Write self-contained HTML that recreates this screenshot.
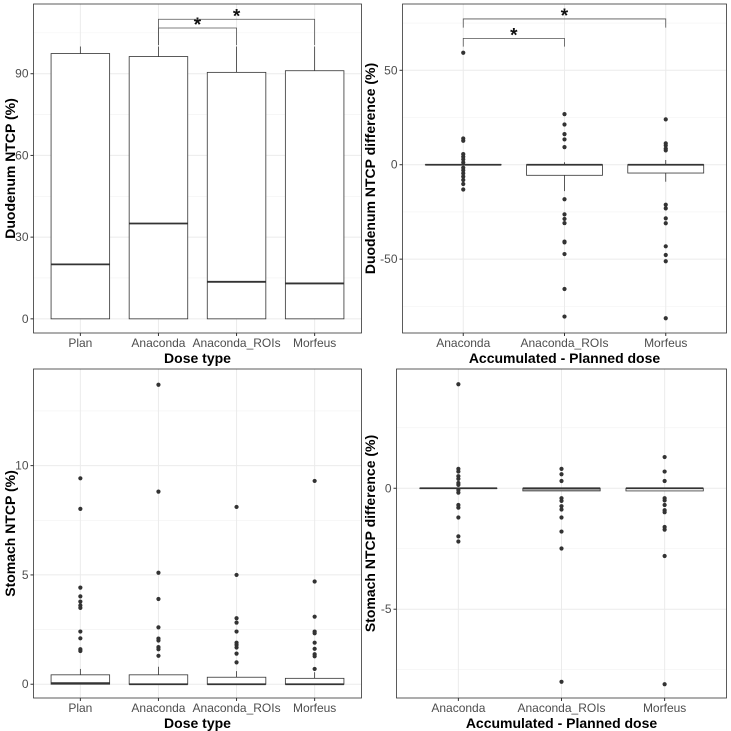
<!DOCTYPE html>
<html><head><meta charset="utf-8"><style>
html,body{margin:0;padding:0;background:#fff;}
svg{display:block;font-family:"Liberation Sans",Arial,sans-serif;}
</style></head><body>
<svg id="fig" width="731" height="731" viewBox="0 0 731 731" xmlns="http://www.w3.org/2000/svg"></svg>
<script>
// Panel A: Duodenum NTCP
const aCats = ["Plan","Anaconda","Anaconda_ROIs","Morfeus"];
const aQ1 = [0,0,0,0];
const aMed = [20,35,13.6,13];
const aQ3 = [97.4,96.3,90.5,91.1];
const aLo = [0,0,0,0];
const aHi = [100,100,100,100];
const aTicks = [0,30,60,90];
const aOut = [[],[],[],[]];
// Panel B: Duodenum NTCP difference
const bCats = ["Anaconda","Anaconda_ROIs","Morfeus"];
const bQ1 = [0,-5.6,-4.4];
const bMed = [0,0,0];
const bQ3 = [0,0,0];
const bLo = [0,-14,-9];
const bHi = [0,1.3,2.5];
const bTicks = [-50,0,50];
const bOut = [
 [59.3,13.9,12.7,5.6,4.2,2.8,1.2,-1.6,-3,-4.6,-6.3,-8.1,-10.2,-13.1],
 [26.8,21.3,16.2,13.4,9.3,-18.3,-26.3,-28.7,-30.9,-40.7,-41.1,-47.3,-65.8,-80.4],
 [24,11.3,10.2,8.5,7.6,-21.2,-23.1,-28.4,-31,-43.2,-47.8,-51.1,-81.3]
];
// Panel C: Stomach NTCP
const cCats = ["Plan","Anaconda","Anaconda_ROIs","Morfeus"];
const cQ1 = [0,0,0,0];
const cMed = [0.05,0,0,0];
const cQ3 = [0.43,0.43,0.32,0.27];
const cLo = [0,0,0,0];
const cHi = [0.7,0.8,0.6,0.55];
const cTicks = [0,5,10];
const cOut = [
 [9.42,8.02,4.42,4.02,3.78,3.6,3.49,2.41,2.1,1.6,1.52],
 [13.7,8.81,5.1,3.9,2.6,2.09,2.0,1.7,1.6,1.3],
 [8.11,5.0,3.02,2.82,2.41,1.9,1.8,1.68,1.4,1.0],
 [9.3,4.7,3.09,2.41,2.33,1.9,1.62,1.37,1.28,0.7]
];
// Panel D: Stomach NTCP difference
const dCats = ["Anaconda","Anaconda_ROIs","Morfeus"];
const dQ1 = [0,-0.11,-0.11];
const dMed = [0,0,0];
const dQ3 = [0,0,0];
const dLo = [0,-0.11,-0.11];
const dHi = [0,0,0];
const dTicks = [-5,0];
const dOut = [
 [4.3,0.8,0.69,0.5,0.39,0.22,0.14,-0.07,-0.18,-0.69,-0.8,-1.21,-1.99,-2.2],
 [0.8,0.58,0.3,-0.41,-0.52,-0.74,-0.88,-1.21,-1.79,-2.49,-8.0],
 [1.29,0.69,0.3,-0.41,-0.5,-0.69,-0.91,-0.99,-1.6,-1.71,-2.8,-8.1]
];
// significance brackets: [fromIdx,toIdx,yValue,tipValue]
const aSig = [[1,2,106.8,100.5],[1,3,110,100.5]];
const bSig = [[0,1,66.9,62.5],[0,2,77.2,72.6]];

const NS="http://www.w3.org/2000/svg";
const svg=document.getElementById('fig');
function el(tag,attrs,parent,text){const e=document.createElementNS(NS,tag);for(const k in attrs)e.setAttribute(k,attrs[k]);if(text!==undefined)e.textContent=text;(parent||svg).appendChild(e);return e;}

function panel(p){
  const g=el('g',{});
  
  
  const L=p.x0,R=p.x1,T=p.y0,B=p.y1;
  const y=v=>T+(p.ymax-v)/(p.ymax-p.ymin)*(B-T);
  const n=p.cats.length;
  const xStep=(R-L)/(n+0.2);
  const x=i=>L+xStep*(i+0.6);
  const bw=xStep*0.75;
  const step=p.ticks[1]-p.ticks[0];
  for(let i=0;i<p.ticks.length+1;i++){
    const v=p.ticks[0]-step/2+i*step;
    if(v>p.ymin&&v<p.ymax){el('line',{x1:L,x2:R,y1:y(v),y2:y(v),stroke:'#f2f2f2','stroke-width':0.6},g);}
  }
  p.ticks.forEach(t=>{
    const l=el('line',{x1:L,x2:R,y1:y(t),y2:y(t),stroke:'#ebebeb','stroke-width':1},g);
    
    
    el('line',{x1:L-3,x2:L,y1:y(t),y2:y(t),stroke:'#333','stroke-width':1},g);
    const tx=el('text',{x:L-5,y:y(t)+4,'text-anchor':'end','font-size':12,fill:'#4d4d4d'},g,String(t));
    
    
  });
  p.cats.forEach((c,i)=>{
    el('line',{x1:x(i),x2:x(i),y1:T,y2:B,stroke:'#ebebeb','stroke-width':1},g);
    el('line',{x1:x(i),x2:x(i),y1:B,y2:B+3,stroke:'#333','stroke-width':1},g);
    const tx=el('text',{x:x(i),y:B+14,'text-anchor':'middle','font-size':12,fill:'#4d4d4d'},g,c);
    
    
  });
  p.cats.forEach((c,i)=>{
    const bg=el('g',{},g);
    
    
    el('line',{x1:x(i),x2:x(i),y1:y(p.hi[i]),y2:y(p.q3[i]),stroke:'#333','stroke-width':0.8},bg);
    el('line',{x1:x(i),x2:x(i),y1:y(p.q1[i]),y2:y(p.lo[i]),stroke:'#333','stroke-width':0.8},bg);
    const h=Math.max(0.01,y(p.q1[i])-y(p.q3[i]));
    el('rect',{x:x(i)-bw/2,y:y(p.q3[i]),width:bw,height:h,fill:(p.grayFill&&p.grayFill[i])?'#aaa':'#fff',stroke:'#333','stroke-width':0.8},bg);
    el('line',{x1:x(i)-bw/2,x2:x(i)+bw/2,y1:y(p.med[i]),y2:y(p.med[i]),stroke:'#333','stroke-width':1.8},bg);
    p.out[i].forEach(v=>{
      const d=el('circle',{cx:x(i),cy:y(v),r:2.1,fill:'#333'},bg);
      
      
    });
  });
  (p.sig||[]).forEach(s=>{
    const sg=el('g',{},g);
    
    
    const xa=x(s[0]),xb=x(s[1]),yy=y(s[2]),yt=y(s[3]);
    el('polyline',{points:`${xa},${yt} ${xa},${yy} ${xb},${yy} ${xb},${yt}`,fill:'none',stroke:'#555','stroke-width':0.8},sg);
    el('text',{x:(xa+xb)/2,y:yy+3,'text-anchor':'middle','font-size':19,'font-weight':'bold',fill:'#111'},sg,'*');
  });
  const fr=el('rect',{x:L,y:T,width:R-L,height:B-T,fill:'none',stroke:'#333','stroke-width':0.8},g);
  
  
  const xt=el('text',{x:(L+R)/2,y:B+30,'text-anchor':'middle','font-size':14,'font-weight':'bold',fill:'#000'},g,p.xlab);
  
  
  const yc=(T+B)/2;
  const yt=el('text',{x:p.ylx,y:yc,'text-anchor':'middle','font-size':14,'font-weight':'bold',fill:'#000',transform:`rotate(-90 ${p.ylx} ${yc})`},g,p.ylab);
  
  
}

panel({name:'duodenum-ntcp-panel',x0:33.5,x1:361.5,y0:4,y1:333,ymin:-5.2,ymax:115.6,cats:aCats,q1:aQ1,med:aMed,q3:aQ3,lo:aLo,hi:aHi,ticks:aTicks,out:aOut,sig:aSig,xlab:'Dose type',ylab:'Duodenum NTCP (%)',ylx:15});
panel({name:'duodenum-difference-panel',x0:402.5,x1:726.5,y0:4,y1:333,ymin:-89.1,ymax:85.1,cats:bCats,q1:bQ1,med:bMed,q3:bQ3,lo:bLo,hi:bHi,ticks:bTicks,out:bOut,sig:bSig,xlab:'Accumulated - Planned dose',ylab:'Duodenum NTCP difference (%)',ylx:375});
panel({name:'stomach-ntcp-panel',x0:33.5,x1:361.5,y0:369,y1:698,ymin:-0.63,ymax:14.42,cats:cCats,q1:cQ1,med:cMed,q3:cQ3,lo:cLo,hi:cHi,ticks:cTicks,out:cOut,xlab:'Dose type',ylab:'Stomach NTCP (%)',ylx:15});
panel({name:'stomach-difference-panel',x0:396.5,x1:726.5,y0:369,y1:698,ymin:-8.67,ymax:4.93,cats:dCats,q1:dQ1,med:dMed,q3:dQ3,lo:dLo,hi:dHi,ticks:dTicks,out:dOut,grayFill:[false,true,false],xlab:'Accumulated - Planned dose',ylab:'Stomach NTCP difference (%)',ylx:375});
</script>
</body></html>
